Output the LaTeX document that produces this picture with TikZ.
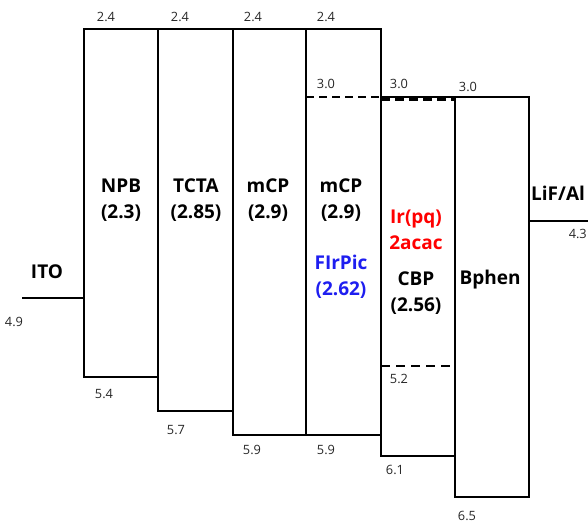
\documentclass[tikz,border=0pt]{standalone}
\usepackage{fontspec}
\setmainfont{Open Sans}
\definecolor{irred}{RGB}{255,0,0}
\definecolor{firblue}{RGB}{30,30,240}
\tikzset{
  layer/.style={draw=black, line width=2.6pt, inner sep=0pt, outer sep=0pt, fill=none},
  lvl/.style={font=\fontsize{12.8}{13}\selectfont, text=black!85, inner sep=0pt},
  lname/.style={font=\bfseries\fontsize{19}{26}\selectfont, inner sep=0pt, align=center},
  electrode/.style={line width=2.6pt},
  hdash/.style={line width=2.2pt, dash pattern=on 8pt off 5pt},
  hdot/.style={line width=1.6pt, draw=white, dash pattern=on 2pt off 5pt}
}
\begin{document}
\begin{tikzpicture}[x=1pt,y=-1pt]
\useasboundingbox (0,0) rectangle (588,525);
% layer boxes
\node[layer, minimum width=74pt, minimum height=348pt] (npb) at (121,203) {};
\node[layer, minimum width=75pt, minimum height=382pt] (tcta) at (195.5,220) {};
\node[layer, minimum width=73pt, minimum height=406pt] (mcp) at (269.5,232) {};
\node[layer, minimum width=75pt, minimum height=406pt] (mcpb) at (343.5,232) {};
\node[layer, minimum width=74pt, minimum height=359pt] (cbp) at (418,276.5) {};
\node[layer, minimum width=74pt, minimum height=400pt] (bphen) at (492,297) {};
% electrodes
\coordinate (itoend) at (22,298);
\draw[electrode] (itoend) -- (npb.west |- itoend);
\coordinate (lifend) at (590,221);
\draw[electrode] (bphen.east |- lifend) -- (lifend);
% dashed levels
\coordinate (d1a) at (306,97);
\draw[hdash] (d1a) -- (mcpb.east |- d1a);
\coordinate (d2a) at (381,99.5);
\draw[line width=2.4pt, dash pattern=on 9pt off 5pt] (d2a) -- (bphen.west |- d2a);
\coordinate (d3a) at (381,366);
\draw[line width=2.6pt, dash pattern=on 9pt off 6pt] (d3a) -- (bphen.west |- d3a);
\coordinate (d4a) at (308,431.5);
\draw[hdot] (d4a) -- (380,431.5);
% layer names
\node[lname] (tnpb) at (121,200) {NPB\\(2.3)};
\node[lname] (ttcta) at (196,200) {TCTA\\(2.85)};
\node[lname] (tmcp) at (268,200) {mCP\\(2.9)};
\node[lname] (tmcpb) at (341,200) {mCP\\(2.9)};
\node[lname, text=firblue] (tfir) at (341,277) {FIrPic\\(2.62)};
\node[lname, text=irred] (tir) at (416,230) {Ir(pq)\\2acac};
\node[lname] (tcbp) at (416,293) {CBP\\(2.56)};
\node[lname] (tbph) at (490,280) {Bphen};
\node[lname, anchor=west] (tlif) at (531,193) {LiF/Al};
\node[lname] (tito) at (47,272) {ITO};
% level numbers
\node[lvl] (l1) at (106,17) {2.4};
\node[lvl] (l2) at (180,17) {2.4};
\node[lvl] (l3) at (253,17) {2.4};
\node[lvl] (l4) at (326,17) {2.4};
\node[lvl] (l5) at (326,84) {3.0};
\node[lvl] (l6) at (399,84) {3.0};
\node[lvl] (l7) at (468,87) {3.0};
\node[lvl] (l8) at (14,322) {4.9};
\node[lvl, anchor=east] (l9) at (587,234) {4.3};
\node[lvl] (l10) at (104,394) {5.4};
\node[lvl] (l11) at (176,430) {5.7};
\node[lvl] (l12) at (252,450) {5.9};
\node[lvl] (l13) at (326,450) {5.9};
\node[lvl] (l14) at (399,379) {5.2};
\node[lvl] (l15) at (395,470) {6.1};
\node[lvl] (l16) at (467,516) {6.5};
\end{tikzpicture}
\end{document}
